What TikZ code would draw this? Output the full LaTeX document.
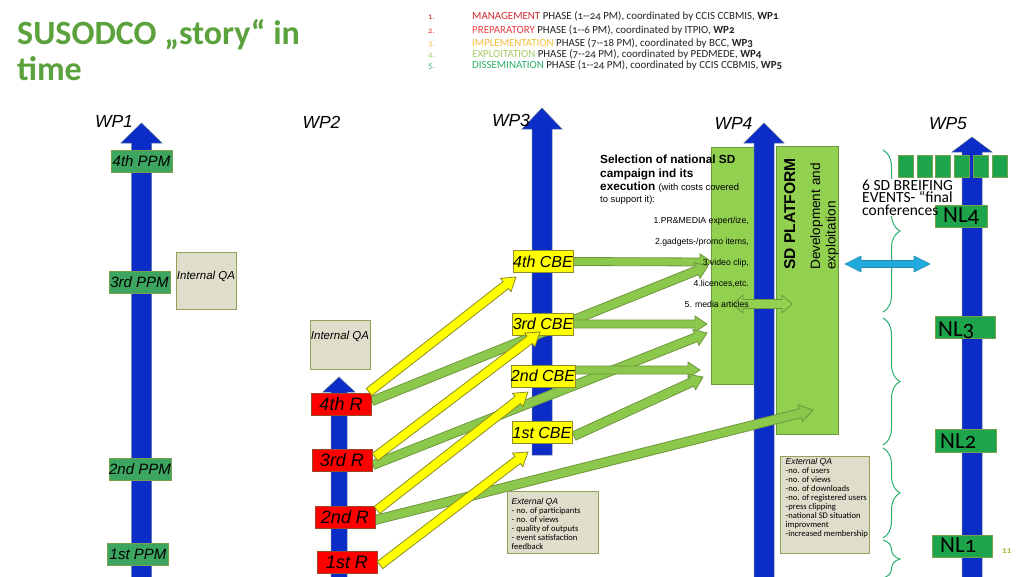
\documentclass[tikz,border=0pt]{standalone}
\usepackage{fontspec}
\setmainfont{Liberation Sans}
\newfontfamily\calib{Carlito}
\newfontfamily\calibo[Numbers=OldStyle]{Carlito}
\usetikzlibrary{calc,decorations.pathreplacing}
\pgfdeclarelayer{back}
\pgfdeclarelayer{bg}
\pgfdeclarelayer{mid}
\pgfdeclarelayer{top}
\pgfsetlayers{back,bg,mid,main,top}

\definecolor{wpblue}{RGB}{12,44,200}
\definecolor{blueline}{RGB}{90,120,150}
\definecolor{ppmgreen}{RGB}{60,165,95}
\definecolor{ppmline}{RGB}{120,160,80}
\definecolor{nlgreen}{RGB}{30,165,75}
\definecolor{nlline}{RGB}{120,160,80}
\definecolor{lgreen}{RGB}{146,208,80}
\definecolor{agreen}{RGB}{140,200,75}
\definecolor{oline}{RGB}{110,150,60}
\definecolor{yel}{RGB}{255,255,0}
\definecolor{yline}{RGB}{140,140,40}
\definecolor{rred}{RGB}{255,0,0}
\definecolor{rline}{RGB}{160,70,40}
\definecolor{qafill}{RGB}{222,222,202}
\definecolor{qaline}{RGB}{150,160,90}
\definecolor{cyanarr}{RGB}{30,170,220}
\definecolor{cyanline}{RGB}{40,140,170}
\definecolor{titlegreen}{RGB}{91,162,60}
\definecolor{bracecol}{RGB}{45,175,110}
\definecolor{hdrtext}{RGB}{35,35,35}
\definecolor{cA}{RGB}{210,45,50}
\definecolor{cB}{RGB}{235,60,70}
\definecolor{cC}{RGB}{245,190,60}
\definecolor{cD}{RGB}{165,205,100}
\definecolor{cE}{RGB}{40,175,110}
\definecolor{pgnum}{RGB}{175,185,50}

% block arrow: style, from, to, shaft half width, head half width, head length
\newcommand{\blockarr}[6]{%
  \path[#1] let \p1=(#2), \p2=(#3), \n1={atan2(\y2-\y1,\x2-\x1)} in
   ($(\p1)+(\n1+90:#4)$) -- ($(\p2)+(\n1+180:#6)+(\n1+90:#4)$)
   -- ($(\p2)+(\n1+180:#6)+(\n1+90:#5)$) -- (\p2)
   -- ($(\p2)+(\n1+180:#6)+(\n1-90:#5)$) -- ($(\p2)+(\n1+180:#6)+(\n1-90:#4)$)
   -- ($(\p1)+(\n1-90:#4)$) -- cycle;}
% double block arrow
\newcommand{\dblarr}[6]{%
  \path[#1] let \p1=(#2), \p2=(#3), \n1={atan2(\y2-\y1,\x2-\x1)} in
   (\p1) -- ($(\p1)+(\n1:#6)+(\n1+90:#5)$) -- ($(\p1)+(\n1:#6)+(\n1+90:#4)$)
   -- ($(\p2)+(\n1+180:#6)+(\n1+90:#4)$) -- ($(\p2)+(\n1+180:#6)+(\n1+90:#5)$)
   -- (\p2) -- ($(\p2)+(\n1+180:#6)+(\n1-90:#5)$) -- ($(\p2)+(\n1+180:#6)+(\n1-90:#4)$)
   -- ($(\p1)+(\n1:#6)+(\n1-90:#4)$) -- ($(\p1)+(\n1:#6)+(\n1-90:#5)$) -- cycle;}

\begin{document}
\begin{tikzpicture}[x=1pt,y=-1pt,
  lbox/.style={inner sep=0pt, outer sep=0pt, font=\fontsize{15}{15}\selectfont\itshape},
  ppm/.style={lbox, fill=ppmgreen, draw=ppmline, line width=0.6pt, minimum width=61pt, minimum height=22pt},
  rbox/.style={lbox, fill=rred, draw=rline, line width=0.8pt, minimum width=60pt, minimum height=22pt, font=\fontsize{18}{18}\selectfont\itshape},
  cbe/.style={lbox, fill=yel, draw=yline, line width=0.8pt, minimum width=60pt, minimum height=22pt, font=\fontsize{16}{16}\selectfont\itshape},
  qabox/.style={fill=qafill, draw=qaline, line width=0.8pt, inner sep=0pt},
  qatxt/.style={inner sep=0pt, font=\fontsize{11.5}{11.5}\selectfont\itshape},
  extxt/.style={inner sep=0pt, anchor=north west, align=left, font=\calib\fontsize{8.6}{9}\selectfont},
  grect/.style={fill=lgreen, draw=oline, line width=0.6pt, inner sep=0pt},
  nlb/.style={fill=nlgreen, draw=nlline, line width=0.5pt, inner sep=0pt},
  nltxt/.style={inner sep=0pt, anchor=base west, font=\calibo\fontsize{23}{23}\selectfont},
  wplab/.style={inner sep=0pt, font=\fontsize{17.5}{17.5}\selectfont\itshape},
  hdr/.style={inner sep=0pt, anchor=base west, text=hdrtext, font=\calibo\fontsize{10.9}{10.9}\selectfont},
  num/.style={inner sep=0pt, anchor=base west, font=\calibo\fontsize{8.5}{8.5}\selectfont},
  item/.style={inner sep=0pt, anchor=base east, font=\fontsize{8.7}{8.7}\selectfont},
  ttl/.style={inner sep=0pt, anchor=base west, text=titlegreen, font=\calib\bfseries\fontsize{34}{36}\selectfont},
  bluearr/.style={fill=wpblue, draw=blueline, line width=0.5pt},
  garr/.style={fill=agreen, draw=oline, line width=0.8pt},
  garrl/.style={fill=lgreen, draw=oline, line width=0.8pt},
  yarr/.style={fill=yel, draw=yline, line width=0.8pt},
  carr/.style={fill=cyanarr, draw=cyanline, line width=0.6pt},
  brc/.style={draw=bracecol, line width=1pt, decorate, decoration={brace, amplitude=17pt}}
]
\begin{pgfonlayer}{back}
\fill[white] (0,0) rectangle (1024,576);
\end{pgfonlayer}
\useasboundingbox (0,0) rectangle (1024,576);

% ---------- title and header ----------
\node[ttl] (t1) at (17,44) {SUSODCO „story“ in};
\node[ttl] (t2) at (17,80) {time};

\node[num, text=cA] (n1) at (428,19.5) {1.};
\node[num, text=cB] (n2) at (428,33.5) {2.};
\node[num, text=cC] (n3) at (428,46) {3.};
\node[num, text=cD] (n4) at (428,57) {4.};
\node[num, text=cE] (n5) at (428,68.5) {5.};
\node[hdr] (h1) at (472,19.5) {\textcolor{cA}{MANAGEMENT} PHASE (1-\kern0pt-24 PM), coordinated by CCIS CCBMIS, \textbf{WP1}};
\node[hdr] (h2) at (472,33.5) {\textcolor{cB}{PREPARATORY} PHASE (1-\kern0pt-6 PM), coordinated by ITPIO, \textbf{WP2}};
\node[hdr] (h3) at (472,46) {\textcolor{cC}{IMPLEMENTATION} PHASE (7-\kern0pt-18 PM), coordinated by BCC, \textbf{WP3}};
\node[hdr] (h4) at (472,57) {\textcolor{cD}{EXPLOITATION} PHASE (7-\kern0pt-24 PM), coordinated by PEDMEDE, \textbf{WP4}};
\node[hdr] (h5) at (472,68.5) {\textcolor{cE}{DISSEMINATION} PHASE (1-\kern0pt-24 PM), coordinated by CCIS CCBMIS, \textbf{WP5}};

% ---------- WP labels ----------
\node[wplab] (wp1) at (114,121) {WP1};
\node[wplab] (wp2) at (321.5,122) {WP2};
\node[wplab] (wp3) at (511,120) {WP3};
\node[wplab] (wp4) at (733.5,123) {WP4};
\node[wplab] (wp5) at (948,124) {WP5};

% ---------- WP4 rectangles, blue arrows, braces ----------
\begin{pgfonlayer}{bg}
\node[grect, minimum width=42.5pt, minimum height=237pt] (camp) at (732.75,265.5) {};
\node[grect, minimum width=62pt, minimum height=288pt] (plat) at (807,290) {};
\coordinate (w1b) at (141.5,580); \coordinate (w1t) at (141.5,123);
\coordinate (w2b) at (339,580);   \coordinate (w2t) at (339,377);
\coordinate (w3b) at (542,455);   \coordinate (w3t) at (542,108);
\coordinate (w4b) at (764,580);   \coordinate (w4t) at (764,123);
\coordinate (w5b) at (972,580);   \coordinate (w5t) at (972,137);
\blockarr{bluearr}{w1b}{w1t}{10pt}{20.5pt}{20pt}
\blockarr{bluearr}{w2b}{w2t}{8pt}{16pt}{15pt}
\blockarr{bluearr}{w3b}{w3t}{10pt}{20pt}{21pt}
\blockarr{bluearr}{w4b}{w4t}{10pt}{20pt}{20pt}
\blockarr{bluearr}{w5b}{w5t}{10pt}{20pt}{15pt}
\draw[brc] (883,150) -- (883,312);
\draw[brc] (883,318) -- (883,445);
\draw[brc] (883,448) -- (883,538);
\draw[brc] (883,540) -- (883,578);
\end{pgfonlayer}

\node[rotate=90, anchor=base west, inner sep=0pt, font=\bfseries\fontsize{15.6}{15.6}\selectfont] (sdp) at (795,270) {SD PLATFORM};
\node[rotate=90, anchor=base west, inner sep=0pt, font=\fontsize{13.6}{13.6}\selectfont] (dev1) at (820,270) {Development and};
\node[rotate=90, anchor=base west, inner sep=0pt, font=\fontsize{13.6}{13.6}\selectfont] (dev2) at (835.5,270) {exploitation};

\node[anchor=north west, inner sep=0pt, align=left, font=\bfseries\fontsize{11.8}{13.6}\selectfont] (sel) at (600,155)
 {Selection of national SD\\campaign ind its\\execution {\mdseries\fontsize{9.4}{10.5}\selectfont (with costs covered}\\[-2pt]{\mdseries\fontsize{9.4}{10.5}\selectfont to support it):}};
\node[item] (i1) at (749,223) {1.PR\&MEDIA expert/ize,};
\node[item] (i2) at (749,244) {2.gadgets-/promo items,};
\node[item] (i3) at (749,265.5) {3.video clip,};
\node[item] (i4) at (749,286.5) {4.licences,etc.};
\node[item] (i5) at (749,307) {5. media articles};

% ---------- boxes ----------
\node[ppm] (ppm4) at (141.5,161) {4th PPM};
\node[ppm] (ppm3) at (139.5,282.5) {3rd PPM};
\node[ppm] (ppm2) at (140,469) {2nd PPM};
\node[ppm] (ppm1) at (138,554) {1st PPM};

\node[qabox, minimum width=60pt, minimum height=57pt] (qa1) at (206,280.5) {};
\node[qatxt] (qa1t) at (206,276) {Internal QA};
\node[qabox, minimum width=60pt, minimum height=49pt] (qa2) at (340,344.5) {};
\node[qatxt] (qa2t) at (340,336) {Internal QA};

\node[rbox] (r4) at (341,404) {4th R};
\node[rbox] (r3) at (342,460) {3rd R};
\node[rbox] (r2) at (345,517.5) {2nd R};
\node[rbox] (r1) at (347,562) {1st R};

\node[cbe] (cbe4) at (543,261.5) {4th CBE};
\node[cbe] (cbe3) at (543,324) {3rd CBE};
\node[cbe] (cbe2) at (543,376) {2nd CBE};
\node[cbe] (cbe1) at (542,432.5) {1st CBE};

\node[qabox, minimum width=91pt, minimum height=62pt] (ex1) at (552.5,522) {};
\node[extxt] (ex1t) at (511.5,498.5) {{\rmfamily\itshape External QA}\\- no. of participants\\- no. of views\\- quality of outputs\\- event satisfaction\\feedback};
\node[qabox, minimum width=89pt, minimum height=97pt] (ex2) at (825,505) {};
\node[extxt] (ex2t) at (785.5,458.5) {{\rmfamily\itshape External QA}\\-no. of users\\-no. of views\\-no. of downloads\\-no. of registered users\\-press clipping\\-national SD situation\\improvment\\-increased membership};

% ---------- WP5 ----------
\foreach \i/\xx in {1/905.5,2/924.3,3/943.1,4/961.9,5/980.7,6/999.5}
  \node[nlb, minimum width=15pt, minimum height=22pt] (sq\i) at (\xx,166) {};
\node[nlb, minimum width=52pt, minimum height=22pt] (nl4) at (961,216) {};
\node[nlb, minimum width=60pt, minimum height=22pt] (nl3) at (965,327) {};
\node[nlb, minimum width=61pt, minimum height=23pt] (nl2) at (965.5,440.5) {};
\node[nlb, minimum width=60pt, minimum height=22pt] (nl1) at (962,546) {};
\node[nltxt] (nl4t) at (943,222) {NL4};
\node[nltxt] (nl3t) at (938,336) {NL3};
\node[nltxt] (nl2t) at (940,448) {NL2};
\node[nltxt] (nl1t) at (940,552) {NL1};
\node[anchor=north west, inner sep=0pt, align=left, font=\calib\fontsize{15.5}{12.5}\selectfont] (ev) at (862,179.5)
  {6 SD BREIFING\\EVENTS- “final\\conferences};
\node[anchor=base west, inner sep=0pt, text=pgnum, font=\calibo\bfseries\fontsize{9}{9}\selectfont] (pg) at (1002,553) {11};

% ---------- green arrows ----------
\coordinate (g1e) at (712,262);
\coordinate (g2s) at (372,401); \coordinate (g2e) at (708,266);
\coordinate (g3e) at (707,324);
\coordinate (g4s) at (373,465); \coordinate (g4e) at (707,333);
\coordinate (g5s) at (573,370); \coordinate (g5e) at (700,370);
\coordinate (g6s) at (574,436); \coordinate (g6e) at (703,377);
\coordinate (g7s) at (375,520); \coordinate (g7e) at (813,410);
\coordinate (mdl) at (733,304); \coordinate (mdr) at (792,304);
\coordinate (cyl) at (845,264); \coordinate (cyr) at (930,264);
\begin{pgfonlayer}{mid}
% white gap of the brace behind the event text
\fill[white] (878,179) rectangle (905,216);
\blockarr{garr}{cbe4.east}{g1e}{4pt}{8pt}{12pt}
\blockarr{garr}{g2s}{g2e}{4.5pt}{8.5pt}{12pt}
\blockarr{garr}{cbe3.east}{g3e}{4pt}{8pt}{12pt}
\blockarr{garr}{g4s}{g4e}{4.5pt}{8.5pt}{12pt}
\blockarr{garr}{g5s}{g5e}{4pt}{8pt}{12pt}
\blockarr{garr}{g6s}{g6e}{4.5pt}{8.5pt}{12pt}
\blockarr{garr}{g7s}{g7e}{4.5pt}{8.5pt}{13pt}
\dblarr{garrl}{mdl}{mdr}{4.5pt}{9pt}{10pt}
\dblarr{carr}{cyl}{cyr}{3.5pt}{8pt}{16pt}
\end{pgfonlayer}

% ---------- yellow arrows ----------
\coordinate (y1s) at (369,392); \coordinate (y1e) at (516,277);
\coordinate (y2s) at (375,457); \coordinate (y2e) at (540,332);
\coordinate (y3s) at (377,510); \coordinate (y3e) at (528,392);
\coordinate (y4s) at (380,565); \coordinate (y4e) at (528,452);
\begin{pgfonlayer}{top}
\blockarr{yarr}{y1s}{y1e}{4.5pt}{8.5pt}{13pt}
\blockarr{yarr}{y2s}{y2e}{4.5pt}{8.5pt}{13pt}
\blockarr{yarr}{y3s}{y3e}{4.5pt}{8.5pt}{13pt}
\blockarr{yarr}{y4s}{y4e}{4.5pt}{8.5pt}{13pt}
\end{pgfonlayer}
\end{tikzpicture}
\end{document}
